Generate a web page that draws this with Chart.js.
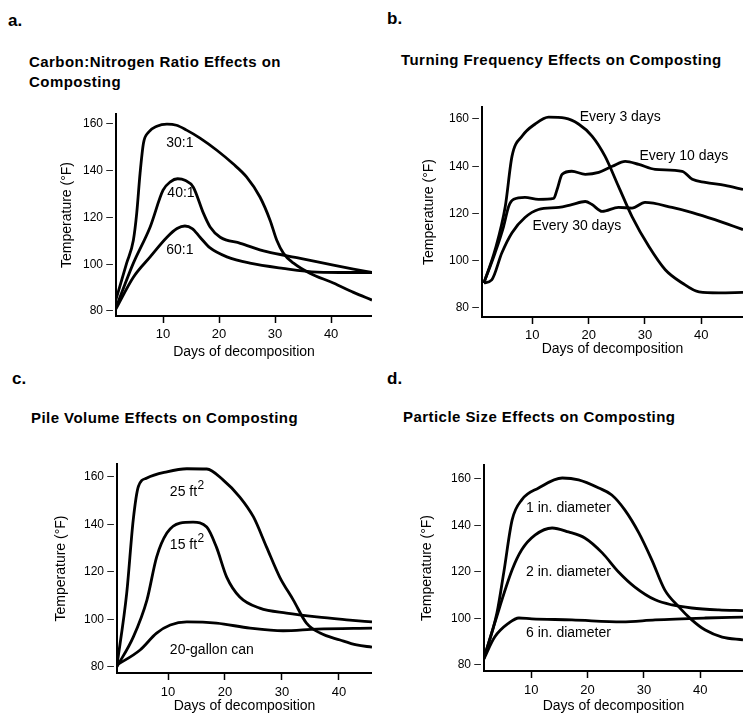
<!DOCTYPE html>
<html>
<head>
<meta charset="utf-8">
<title>Composting temperature curves</title>
<script src="https://cdn.jsdelivr.net/npm/chart.js@4.4.1/dist/chart.umd.min.js"></script>
<style>
  body { margin: 0; background: #fff; width: 743px; height: 721px; position: relative; overflow: hidden;
         font-family: 'Liberation Sans', Arial, sans-serif; color: #000; }
  canvas { position: absolute; }
  .tag { position: absolute; font-weight: bold; font-size: 17px; line-height: 17px; }
  .ttl { position: absolute; font-weight: bold; font-size: 15px; line-height: 20px; letter-spacing: 0.45px; white-space: nowrap; }
</style>
</head>
<body>
<div class="tag" style="left:8px;top:12px">a.</div>
<div class="tag" style="left:387px;top:10px">b.</div>
<div class="tag" style="left:12px;top:370px">c.</div>
<div class="tag" style="left:387px;top:370px">d.</div>

<div class="ttl" style="left:29px;top:52px">Carbon:Nitrogen Ratio Effects on<br>Composting</div>
<div class="ttl" style="left:401px;top:50px">Turning Frequency Effects on Composting</div>
<div class="ttl" style="left:31px;top:408px">Pile Volume Effects on Composting</div>
<div class="ttl" style="left:403px;top:407px">Particle Size Effects on Composting</div>

<canvas id="chartA" width="372" height="360" style="left:0;top:0;width:372px;height:360px"></canvas>
<canvas id="chartB" width="371" height="360" style="left:372px;top:0;width:371px;height:360px"></canvas>
<canvas id="chartC" width="372" height="361" style="left:0;top:360px;width:372px;height:361px"></canvas>
<canvas id="chartD" width="371" height="361" style="left:372px;top:360px;width:371px;height:361px"></canvas>

<script>
// --- data (day of decomposition, temperature °F) ---
const xTickVals = [10, 20, 30, 40];
const yTickVals = [80, 100, 120, 140, 160];

// a. carbon:nitrogen ratio
const cn30Days = [1.6, 3.5, 4.7, 5.3, 5.9, 6.5, 7.4, 8.9, 10.7, 12.4, 14.2, 16.6, 19.6, 22.5, 24.9, 27.3, 29.1, 30.3, 31.5, 33.3, 36.2, 40.4, 44, 47.3];
const cn30Temp = [85, 100.5, 110.3, 121.9, 139, 151.8, 156.5, 159.1, 160, 159.5, 157.4, 154, 148.8, 143, 137.4, 128.8, 118.9, 110.3, 104.7, 100.5, 96.2, 92, 88, 84.7];
const cn40Days = [1.6, 4.7, 7.7, 10, 11.3, 12.6, 13.9, 15.4, 17.2, 18.4, 20.2, 23.8, 28.5, 34.5, 40.4, 44, 47.3];
const cn40Temp = [81.5, 100.5, 116, 131.7, 135.3, 136.6, 136, 133, 121.9, 116, 111.6, 109, 105.4, 102.6, 99.7, 98, 96.5];
const cn60Days = [1.6, 4.7, 7.7, 10.7, 12.5, 13.9, 15.2, 16.6, 18.4, 21.4, 25.5, 31.4, 37.5, 43.4, 47.3];
const cn60Temp = [81, 94.5, 103.2, 111.6, 115.3, 116.4, 115.3, 111.6, 107, 103.2, 100.5, 98.3, 96.7, 96.5, 96.5];
const cnLabels = ['30:1', '40:1', '60:1'];
const cnLabelX = [13, 13.2, 13];
const cnLabelY = [151.8, 130.6, 106];

// b. turning frequency
const tf3Days = [1.4, 3.4, 5.2, 6.4, 8.2, 10.5, 12.9, 15.8, 18.2, 20.6, 22.9, 25.3, 27.7, 30.7, 33.6, 36.6, 39.6, 43.1, 47.4];
const tf3Temp = [90.6, 104.7, 123, 144.3, 152.8, 157.9, 160.8, 160.4, 157.9, 152.8, 144.3, 131.5, 118.7, 106, 96.2, 90.6, 86.8, 86.4, 86.6];
const tf10Days = [1.4, 3.4, 4.9, 5.8, 6.7, 8.7, 11.1, 13.8, 14.4, 15.3, 17, 19.4, 21.8, 24.2, 26.5, 28.9, 31.8, 36.6, 38.4, 40.7, 44.2, 47.4];
const tf10Temp = [90.6, 103.4, 114.5, 123, 126, 126.8, 126, 126.4, 130.2, 136.6, 137.9, 136.6, 137.4, 140, 142.1, 140.8, 138.7, 137.9, 134.5, 133.2, 131.9, 130.2];
const tf30Days = [1.4, 2.8, 4.6, 6.4, 8.7, 11.1, 14.7, 17, 19.4, 20.6, 22.4, 25.3, 27.7, 30, 34.8, 38.4, 42.4, 47.4];
const tf30Temp = [90.6, 91.9, 103.4, 111.9, 118.3, 121.7, 122.6, 123.8, 125.1, 123.8, 120.9, 122.6, 122.3, 124.7, 122.6, 120.4, 117.4, 113.2];
const tfLabels = ['Every 3 days', 'Every 10 days', 'Every 30 days'];
const tfLabelX = [25.6, 36.9, 17.9];
const tfLabelY = [160.8, 144.3, 114.5];

// c. pile volume
const pv25Days = [1, 2.75, 3.9, 4.8, 6.3, 9.8, 13.3, 16.8, 19.7, 22.6, 25, 27.3, 29.6, 32, 34.3, 36.7, 40.2, 43.1, 45.8];
const pv25Temp = [80, 111, 142, 156, 159.6, 162.2, 163.5, 163.4, 158.7, 151.6, 143.2, 130.5, 117.9, 108.2, 98.5, 94.3, 91.4, 89.3, 88.4];
const pv15Days = [1, 3.9, 6.3, 8, 9.8, 12.1, 14.4, 16.8, 18.5, 20.3, 22.6, 26.1, 30.8, 36.1, 41.9, 45.8];
const pv15Temp = [80, 92.6, 108.2, 126.3, 136.4, 140.6, 141, 139, 130.5, 117.9, 109.5, 104.8, 102.7, 101.1, 99.8, 99];
const pv20Days = [1, 5.1, 8, 10.4, 13.3, 18.5, 24.4, 30.2, 36.1, 45.8];
const pv20Temp = [80.8, 87.2, 94.3, 97.7, 99, 98.5, 96.4, 95.3, 96, 96.4];
const pvLabels = ['25 ft', '15 ft', '20-gallon can'];
const pvLabelSup = ['2', '2', ''];
const pvLabelX = [13.3, 13.3, 17.7];
const pvLabelY = [153.8, 131.4, 87.2];

// d. particle size
const ps1Days = [1.5, 3.9, 5.1, 6.6, 8.3, 11.3, 15.5, 18.4, 22, 24.3, 26.6, 29.1, 31.4, 33.7, 36.2, 38.5, 40.9, 43.9, 47.6];
const ps1Temp = [82.2, 102.4, 119.6, 142.4, 151, 156.1, 160.4, 159.6, 156.1, 153.1, 146.7, 136.8, 125.2, 112.3, 105, 99.4, 95, 92, 90.8];
const ps2Days = [1.5, 3.5, 6.6, 8.3, 10.7, 13.7, 16.6, 19.5, 22.6, 25.5, 28.4, 32, 35, 38.5, 43.3, 47.6];
const ps2Temp = [82.2, 98, 120.9, 129.5, 135.9, 138.9, 137.2, 134.6, 128.2, 120, 113.5, 108, 105.8, 104.5, 103.7, 103.4];
const ps6Days = [1.5, 3.5, 6, 7.8, 10.1, 17.2, 26.1, 32, 40.9, 47.6];
const ps6Temp = [82.2, 92, 98, 100.2, 99.8, 99.4, 98.5, 99.4, 100.2, 100.6];
const psLabels = ['1 in. diameter', '2 in. diameter', '6 in. diameter'];
const psLabelX = [16.6, 16.6, 16.6];
const psLabelY = [147.5, 120, 93.8];

const SANS = "'Liberation Sans', Arial, sans-serif";
const NARROW = "'Liberation Sans Narrow', 'Liberation Sans', Arial, sans-serif";

function pts(xs, ys) {
  return xs.map((v, i) => ({ x: v, y: ys[i] }));
}

function curve(xs, ys) {
  return {
    data: pts(xs, ys),
    borderColor: '#000',
    borderWidth: 2.8,
    pointRadius: 0,
    fill: false,
    cubicInterpolationMode: 'monotone'
  };
}

// writes the curve names inside the plot, at data coordinates
const curveLabels = {
  id: 'curveLabels',
  afterDatasetsDraw(chart, args, opts) {
    const { ctx, scales: { x, y } } = chart;
    ctx.save();
    ctx.fillStyle = '#000';
    ctx.textBaseline = 'middle';
    ctx.textAlign = 'left';
    opts.text.forEach((t, i) => {
      const px = x.getPixelForValue(opts.x[i]);
      const py = y.getPixelForValue(opts.y[i]);
      const sup = opts.sup ? opts.sup[i] : '';
      ctx.font = '14px ' + SANS;
      const w = ctx.measureText(t).width;
      let sw = 0;
      if (sup) {
        ctx.font = '12px ' + SANS;
        sw = ctx.measureText(sup).width;
      }
      const left = px - (w + sw) / 2;
      ctx.font = '14px ' + SANS;
      ctx.fillText(t, left, py);
      if (sup) {
        ctx.font = '12px ' + SANS;
        ctx.fillText(sup, left + w + 0.5, py - 6);
      }
    });
    ctx.restore();
  }
};

function makePanel(id, p) {
  const ctx = document.getElementById(id).getContext('2d');
  return new Chart(ctx, {
    type: 'line',
    data: { datasets: p.datasets },
    options: {
      responsive: false,
      devicePixelRatio: 1,
      animation: false,
      events: [],
      layout: { padding: { left: 0, right: 0, top: p.padTop, bottom: 0 } },
      plugins: {
        legend: { display: false },
        tooltip: { enabled: false },
        curveLabels: p.labels
      },
      scales: {
        x: {
          type: 'linear',
          min: p.xMin,
          max: p.xMax,
          afterBuildTicks: s => { s.ticks = xTickVals.map(v => ({ value: v })); },
          afterFit: s => { s.height = p.xH; },
          ticks: { color: '#000', font: { family: SANS, size: 13 }, padding: p.xPad, maxRotation: 0 },
          grid: { display: true, drawOnChartArea: false, drawTicks: true, tickLength: 7, tickWidth: 1.5, tickColor: '#000' },
          border: { display: true, color: '#000', width: 2 },
          title: {
            display: true, text: 'Days of decomposition', color: '#000',
            font: { family: SANS, size: 14 }, padding: { top: 0, bottom: p.xTitlePad }
          }
        },
        y: {
          min: p.yMin,
          max: p.yMax,
          afterBuildTicks: s => { s.ticks = yTickVals.map(v => ({ value: v })); },
          afterFit: s => { s.width = p.yW; },
          ticks: { color: '#000', font: { family: NARROW, size: 12 }, padding: 3, callback: v => v + ' \u2013' },
          grid: { display: false, drawTicks: false },
          border: { display: true, color: '#000', width: 2 },
          title: {
            display: true, text: 'Temperature (°F)', color: '#000',
            font: { family: SANS, size: 14 }, padding: { top: p.yTitlePad, bottom: 0 }
          }
        }
      }
    },
    plugins: [curveLabels]
  });
}

makePanel('chartA', {
  datasets: [curve(cn30Days, cn30Temp), curve(cn40Days, cn40Temp), curve(cn60Days, cn60Temp)],
  labels: { text: cnLabels, x: cnLabelX, y: cnLabelY },
  xMin: 1.6, xMax: 47.3, yMin: 77.9, yMax: 164.3,
  padTop: 114, yW: 116, xH: 44, xPad: 4, xTitlePad: -1, yTitlePad: 59
});

makePanel('chartB', {
  datasets: [curve(tf3Days, tf3Temp), curve(tf10Days, tf10Temp), curve(tf30Days, tf30Temp)],
  labels: { text: tfLabels, x: tfLabelX, y: tfLabelY },
  xMin: 1.07, xMax: 47.4, yMin: 76.2, yMax: 165.1,
  padTop: 107, yW: 110, xH: 43, xPad: 4, xTitlePad: 2, yTitlePad: 49
});

makePanel('chartC', {
  datasets: [curve(pv25Days, pv25Temp), curve(pv15Days, pv15Temp), curve(pv20Days, pv20Temp)],
  labels: { text: pvLabels, sup: pvLabelSup, x: pvLabelX, y: pvLabelY },
  xMin: 1.05, xMax: 45.8, yMin: 77.5, yMax: 165.5,
  padTop: 104, yW: 117, xH: 48, xPad: 5, xTitlePad: 6, yTitlePad: 53
});

makePanel('chartD', {
  datasets: [curve(ps1Days, ps1Temp), curve(ps2Days, ps2Temp), curve(ps6Days, ps6Temp)],
  labels: { text: psLabels, x: psLabelX, y: psLabelY },
  xMin: 1.6, xMax: 47.6, yMin: 77.4, yMax: 166,
  padTop: 105, yW: 112, xH: 50, xPad: 5, xTitlePad: 6, yTitlePad: 47
});
</script>
</body>
</html>
